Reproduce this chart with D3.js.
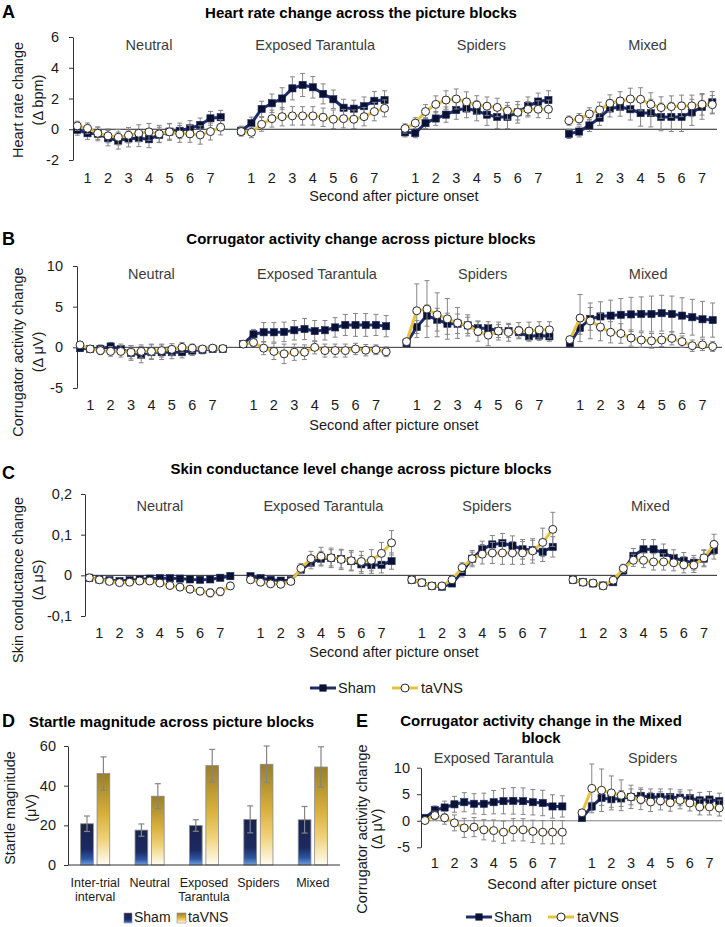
<!DOCTYPE html>
<html>
<head>
<meta charset="utf-8">
<script src="https://cdn.jsdelivr.net/npm/d3@7"></script>
<style>
  body { margin: 0; background: #fff; }
</style>
</head>
<body>
<svg id="fig" width="725" height="927"></svg>
<script>
// ---------- data ----------
const blocks = ["Neutral", "Exposed Tarantula", "Spiders", "Mixed"];
const blocksE = ["Exposed Tarantula", "Spiders"];
const secondLabels = ["1", "2", "3", "4", "5", "6", "7"];
const seriesNames = ["Sham", "taVNS"];

// A: heart rate change (Δ bpm), 15 half-second samples per block
const hrSham = [
  [-0.04, -0.26, -0.3, -0.58, -0.74, -0.6, -0.58, -0.65, -0.37, -0.15, -0.1, 0.06, 0.28, 0.71, 0.78],
  [-0.1, 0.39, 1.32, 1.69, 2.0, 2.66, 2.88, 2.73, 2.3, 1.95, 1.4, 1.34, 1.5, 1.85, 1.9],
  [-0.2, -0.25, 0.4, 0.7, 0.95, 1.25, 1.35, 1.2, 0.95, 0.8, 0.8, 1.1, 1.5, 1.8, 1.9],
  [-0.3, -0.15, 0.25, 0.75, 1.35, 1.45, 1.3, 1.05, 1.05, 0.8, 0.8, 0.8, 1.1, 1.45, 1.75]
];
const hrShamSE = [
  [0.35, 0.4, 0.45, 0.5, 0.55, 0.55, 0.55, 0.55, 0.5, 0.5, 0.5, 0.5, 0.45, 0.45, 0.45],
  [0.3, 0.4, 0.5, 0.6, 0.7, 0.75, 0.75, 0.7, 0.65, 0.6, 0.55, 0.55, 0.6, 0.6, 0.6],
  [0.3, 0.3, 0.35, 0.45, 0.5, 0.6, 0.6, 0.65, 0.7, 0.75, 0.75, 0.7, 0.6, 0.55, 0.6],
  [0.3, 0.35, 0.4, 0.5, 0.55, 0.6, 0.7, 0.85, 0.9, 0.9, 0.95, 0.95, 0.85, 0.8, 0.7]
];
const hrTav = [
  [0.22, 0.06, -0.26, -0.43, -0.52, -0.39, -0.26, -0.17, -0.3, -0.17, -0.3, -0.3, -0.37, -0.15, 0.13],
  [-0.15, -0.2, 0.32, 0.69, 0.82, 0.87, 0.87, 0.87, 0.78, 0.65, 0.69, 0.65, 0.82, 1.15, 1.36],
  [0.05, 0.4, 1.15, 1.62, 1.9, 1.97, 1.78, 1.58, 1.5, 1.42, 1.2, 1.1, 1.3, 1.3, 1.3],
  [0.56, 0.67, 1.0, 1.26, 1.69, 1.84, 1.97, 1.95, 1.62, 1.41, 1.47, 1.52, 1.52, 1.62, 1.6]
];
const hrTavSE = [
  [0.3, 0.35, 0.4, 0.45, 0.5, 0.5, 0.55, 0.55, 0.55, 0.55, 0.55, 0.55, 0.6, 0.55, 0.5],
  [0.3, 0.35, 0.45, 0.55, 0.6, 0.6, 0.6, 0.6, 0.6, 0.6, 0.6, 0.6, 0.6, 0.6, 0.55],
  [0.3, 0.35, 0.45, 0.55, 0.6, 0.65, 0.65, 0.6, 0.6, 0.6, 0.55, 0.5, 0.5, 0.55, 0.6],
  [0.3, 0.35, 0.4, 0.5, 0.55, 0.6, 0.7, 0.75, 0.75, 0.7, 0.7, 0.7, 0.7, 0.7, 0.6]
];
const hrTicks = [-2, 0, 2, 4, 6];
const hrTickLabels = ["-2", "0", "2", "4", "6"];

// B: corrugator activity change (Δ µV)
const corSham = [
  [-0.1, -0.2, -0.2, 0.1, -0.2, -0.7, -0.9, -0.6, -0.6, -0.6, -0.6, -0.4, -0.3, -0.2, -0.2],
  [0.4, 1.6, 1.85, 1.85, 1.9, 2.1, 2.25, 2.0, 2.1, 2.45, 2.75, 2.75, 2.75, 2.75, 2.6],
  [0.5, 2.5, 3.9, 3.4, 2.9, 2.9, 2.7, 2.35, 2.35, 2.0, 2.0, 1.85, 1.35, 1.45, 1.35],
  [0.5, 2.4, 3.5, 3.8, 3.9, 4.0, 4.05, 4.1, 4.1, 4.2, 4.1, 3.9, 3.7, 3.45, 3.35]
];
const corShamSE = [
  [0.4, 0.4, 0.5, 0.5, 0.6, 0.9, 1.0, 0.9, 0.9, 0.8, 0.7, 0.6, 0.5, 0.4, 0.4],
  [0.3, 0.6, 1.2, 1.2, 1.2, 1.2, 1.3, 1.3, 1.2, 1.2, 1.3, 1.4, 1.4, 1.3, 1.3],
  [0.3, 0.8, 1.3, 1.4, 1.3, 1.2, 1.0, 0.9, 0.8, 0.8, 0.8, 0.7, 0.6, 0.6, 0.6],
  [0.3, 0.8, 1.4, 1.8, 1.9, 2.0, 2.1, 2.1, 2.2, 2.2, 2.2, 2.2, 2.2, 2.2, 2.1]
];
const corTav = [
  [0.3, -0.2, -0.4, -0.5, -0.5, -0.6, -0.5, -0.5, -0.4, -0.25, 0.0, -0.1, -0.2, -0.1, -0.15],
  [0.4, 0.6, -0.1, -0.5, -0.8, -0.6, -0.6, 0.0, -0.4, -0.4, -0.4, -0.2, -0.35, -0.3, -0.55],
  [0.7, 4.5, 4.7, 4.0, 3.5, 3.0, 2.7, 1.95, 1.5, 2.0, 1.85, 2.05, 2.0, 2.15, 2.15],
  [0.95, 3.6, 3.25, 2.5, 1.85, 1.7, 1.15, 0.9, 0.8, 0.9, 1.1, 0.7, 0.2, 0.3, 0.1]
];
const corTavSE = [
  [0.3, 0.4, 0.5, 0.6, 0.7, 0.8, 0.8, 0.9, 0.8, 0.7, 0.6, 0.5, 0.4, 0.4, 0.4],
  [0.3, 0.5, 0.8, 1.0, 1.2, 1.0, 0.9, 0.8, 0.8, 0.8, 0.8, 0.7, 0.7, 0.6, 0.6],
  [0.3, 3.3, 3.5, 2.7, 2.5, 1.9, 1.3, 1.2, 1.3, 1.1, 1.1, 1.0, 1.1, 1.0, 1.0],
  [0.3, 2.9, 2.2, 1.7, 1.3, 1.2, 1.0, 0.9, 0.9, 0.8, 0.8, 0.7, 0.7, 0.7, 0.6]
];
const corTicks = [-5, 0, 5, 10];
const corTickLabels = ["-5", "0", "5", "10"];

// C: skin conductance change (Δ µS)
const scSham = [
  [-0.006, -0.01, -0.012, -0.014, -0.012, -0.01, -0.008, -0.007, -0.007, -0.008, -0.01, -0.011, -0.01, -0.006, -0.002],
  [-0.002, -0.007, -0.011, -0.013, -0.012, 0.014, 0.031, 0.041, 0.043, 0.04, 0.035, 0.027, 0.025, 0.026, 0.035],
  [-0.011, -0.018, -0.026, -0.028, -0.02, 0.008, 0.041, 0.064, 0.076, 0.079, 0.073, 0.064, 0.062, 0.058, 0.07],
  [-0.011, -0.017, -0.02, -0.025, -0.017, 0.012, 0.048, 0.064, 0.064, 0.055, 0.043, 0.036, 0.031, 0.041, 0.062]
];
const scShamSE = [
  [0.002, 0.003, 0.003, 0.003, 0.004, 0.004, 0.004, 0.005, 0.005, 0.005, 0.006, 0.006, 0.006, 0.007, 0.008],
  [0.003, 0.004, 0.005, 0.006, 0.006, 0.01, 0.015, 0.018, 0.02, 0.022, 0.022, 0.022, 0.02, 0.02, 0.02],
  [0.003, 0.004, 0.005, 0.005, 0.006, 0.012, 0.016, 0.02, 0.022, 0.024, 0.024, 0.024, 0.024, 0.024, 0.025],
  [0.003, 0.004, 0.005, 0.005, 0.006, 0.01, 0.018, 0.024, 0.024, 0.022, 0.02, 0.02, 0.018, 0.02, 0.022]
];
const scTav = [
  [-0.006, -0.011, -0.015, -0.018, -0.017, -0.014, -0.014, -0.019, -0.025, -0.029, -0.034, -0.039, -0.043, -0.04, -0.026],
  [-0.011, -0.017, -0.021, -0.022, -0.015, 0.017, 0.041, 0.047, 0.043, 0.039, 0.036, 0.034, 0.037, 0.054, 0.08],
  [-0.011, -0.018, -0.026, -0.026, -0.011, 0.019, 0.041, 0.052, 0.055, 0.055, 0.055, 0.055, 0.06, 0.081, 0.113],
  [-0.011, -0.017, -0.019, -0.026, -0.012, 0.017, 0.037, 0.037, 0.033, 0.033, 0.031, 0.026, 0.025, 0.043, 0.076]
];
const scTavSE = [
  [0.002, 0.003, 0.003, 0.004, 0.004, 0.005, 0.005, 0.006, 0.007, 0.008, 0.009, 0.009, 0.01, 0.01, 0.009],
  [0.003, 0.004, 0.005, 0.006, 0.007, 0.012, 0.018, 0.022, 0.024, 0.025, 0.025, 0.025, 0.026, 0.027, 0.03],
  [0.003, 0.004, 0.005, 0.005, 0.006, 0.012, 0.02, 0.024, 0.026, 0.028, 0.028, 0.028, 0.03, 0.035, 0.042],
  [0.003, 0.004, 0.005, 0.005, 0.006, 0.01, 0.015, 0.018, 0.02, 0.02, 0.02, 0.02, 0.018, 0.02, 0.025]
];
const scTicks = [-0.1, 0, 0.1, 0.2];
const scTickLabels = ["-0,1", "0", "0,1", "0,2"];

// D: startle magnitude (µV)
const startleCats = [["Inter-trial", "interval"], ["Neutral"], ["Exposed", "Tarantula"], ["Spiders"], ["Mixed"]];
const startleSham = [20.8, 17.6, 19.9, 23.0, 22.8];
const startleShamSE = [3.9, 3.1, 2.9, 6.8, 6.7];
const startleTav = [46.1, 34.7, 50.1, 50.8, 49.4];
const startleTavSE = [8.4, 6.3, 8.2, 9.2, 10.2];
const startleTicks = [0, 20, 40, 60];

// E: corrugator in the Mixed block, split by picture type
const mixSham = [
  [0.55, 2.0, 2.5, 3.1, 3.5, 3.2, 3.2, 3.5, 3.7, 3.75, 3.7, 3.5, 3.35, 2.7, 2.7],
  [0.5, 2.7, 4.3, 4.05, 4.2, 4.5, 4.7, 4.5, 4.5, 4.5, 4.35, 4.3, 3.85, 4.0, 3.7]
];
const mixShamSE = [
  [0.4, 0.8, 1.2, 1.5, 1.8, 1.9, 2.0, 2.2, 2.4, 2.5, 2.5, 2.4, 2.4, 2.2, 2.0],
  [0.4, 0.8, 1.4, 1.5, 1.5, 1.5, 1.5, 1.5, 1.5, 1.5, 1.5, 1.5, 1.5, 1.5, 1.5]
];
const mixTav = [
  [0.05, 1.0, 0.55, -0.4, -1.35, -1.2, -1.7, -1.85, -2.15, -1.7, -1.7, -2.0, -2.15, -2.15, -2.15],
  [1.5, 6.1, 5.75, 5.25, 4.8, 4.5, 4.0, 3.55, 3.75, 3.4, 3.85, 3.35, 2.6, 2.6, 2.4]
];
const mixTavSE = [
  [0.4, 0.8, 1.2, 1.5, 1.8, 1.8, 1.9, 2.0, 2.1, 2.1, 2.1, 2.1, 2.2, 2.2, 2.2],
  [0.5, 4.6, 4.0, 3.2, 2.9, 2.2, 1.9, 1.8, 1.7, 1.6, 1.6, 1.5, 1.5, 1.5, 1.5]
];

// ---------- style ----------
const FONT = "'Liberation Sans', Arial, Helvetica, sans-serif";
const TXT = "#1a1a1a";
const SHAM_LINE = "#1f2d6c";
const SHAM_MARK = "#0b1131";
const TAV_LINE = "#e6c23e";
const ERR = "#858585";
const SLOT = 16; // 15 samples + one empty slot between blocks

const svg = d3.select("#fig");
svg.style("font-family", FONT);

function txt(g, x, y, s, opt = {}) {
  return g.append("text")
    .attr("x", x).attr("y", y)
    .attr("text-anchor", opt.anchor || "middle")
    .attr("font-size", opt.size || 14.5)
    .attr("font-weight", opt.bold ? "bold" : "normal")
    .attr("fill", opt.fill || TXT)
    .text(s);
}

function rotLabel(g, lines, xs, cy, size) {
  lines.forEach((t, i) => {
    g.append("text")
      .attr("transform", `translate(${xs[i]},${cy}) rotate(-90)`)
      .attr("text-anchor", "middle")
      .attr("dy", "0.35em")
      .attr("font-size", size || 14.5)
      .attr("fill", TXT)
      .text(t);
  });
}

function drawSeries(g, x, y, means, ses, isSham) {
  const pts = means.flatMap((blk, bi) => blk.map((v, i) => ({ k: bi * SLOT + i, v, se: ses[bi][i] })));
  const eg = g.append("g").attr("stroke", ERR).attr("stroke-width", 1);
  eg.selectAll("line.v").data(pts).join("line").attr("class", "v")
    .attr("x1", d => x(d.k)).attr("x2", d => x(d.k))
    .attr("y1", d => y(d.v - d.se)).attr("y2", d => y(d.v + d.se));
  eg.selectAll("line.t").data(pts).join("line").attr("class", "t")
    .attr("x1", d => x(d.k) - 2.5).attr("x2", d => x(d.k) + 2.5)
    .attr("y1", d => y(d.v + d.se)).attr("y2", d => y(d.v + d.se));
  eg.selectAll("line.b").data(pts).join("line").attr("class", "b")
    .attr("x1", d => x(d.k) - 2.5).attr("x2", d => x(d.k) + 2.5)
    .attr("y1", d => y(d.v - d.se)).attr("y2", d => y(d.v - d.se));

  means.forEach((blk, bi) => {
    g.append("path").datum(blk)
      .attr("fill", "none")
      .attr("stroke", isSham ? SHAM_LINE : TAV_LINE)
      .attr("stroke-width", 3)
      .attr("stroke-linejoin", "round")
      .attr("d", d3.line().x((v, i) => x(bi * SLOT + i)).y(v => y(v)));
  });

  if (isSham) {
    g.selectAll("rect.m").data(pts).join("rect").attr("class", "m")
      .attr("x", d => x(d.k) - 3.6).attr("y", d => y(d.v) - 3.6)
      .attr("width", 7.2).attr("height", 7.2)
      .attr("fill", SHAM_MARK).attr("stroke", SHAM_LINE).attr("stroke-width", 0.6);
  } else {
    g.selectAll("circle.m").data(pts).join("circle").attr("class", "m")
      .attr("cx", d => x(d.k)).attr("cy", d => y(d.v)).attr("r", 4)
      .attr("fill", "#fff").attr("stroke", "#2b2b2b").attr("stroke-width", 1);
  }
}

function linePanel(c) {
  const g = svg.append("g");
  const last = (c.blocks.length - 1) * SLOT + 14;
  const x = d3.scaleLinear().domain([0, last]).range([c.x0, c.x1]);
  const y = d3.scaleLinear().domain(c.domain).range([c.yBot, c.yTop]);

  txt(g, c.letterX, c.letterY, c.letter, { anchor: "start", size: 18, bold: true, fill: "#000" });
  c.title.forEach((t, i) => txt(g, c.titleX, c.titleY + i * 17, t, { size: 15, bold: true, fill: "#000" }));

  const ax = g.append("g").attr("transform", `translate(${c.axisX},0)`)
    .call(d3.axisLeft(y).tickValues(c.ticks)
      .tickFormat((d, i) => c.tickLabels[i])
      .tickSize(4).tickSizeOuter(0).tickPadding(c.tickPad));
  ax.select(".domain").attr("stroke", "#333");
  ax.selectAll(".tick line").attr("stroke", "#333");
  ax.selectAll(".tick text").attr("font-size", 14.5).attr("font-family", FONT).attr("fill", TXT);

  g.append("line")
    .attr("x1", c.axisX).attr("x2", c.zeroEnd)
    .attr("y1", y(0)).attr("y2", y(0))
    .attr("stroke", c.zeroColor).attr("stroke-width", 1);

  rotLabel(g, c.yLab, c.yLabX, c.yLabY);

  c.blocks.forEach((b, bi) => {
    txt(g, x(bi * SLOT + 7) + bi * c.drift, c.blockY, b, { fill: "#3c3c3c" });
    secondLabels.forEach((s, k) => txt(g, x(bi * SLOT + 1 + 2 * k), c.xTickY, s));
  });
  txt(g, c.xTitleX, c.xTitleY, "Second after picture onset");

  drawSeries(g, x, y, c.sham, c.shamSE, true);
  drawSeries(g, x, y, c.tav, c.tavSE, false);
}

function lineLegend(x0, yBase) {
  const g = svg.append("g");
  // Sham
  g.append("line").attr("x1", x0).attr("x2", x0 + 26).attr("y1", yBase - 5).attr("y2", yBase - 5)
    .attr("stroke", SHAM_LINE).attr("stroke-width", 3);
  g.append("rect").attr("x", x0 + 13 - 3.6).attr("y", yBase - 5 - 3.6).attr("width", 7.2).attr("height", 7.2)
    .attr("fill", SHAM_MARK);
  txt(g, x0 + 28, yBase, seriesNames[0], { anchor: "start" });
  // taVNS
  const x1 = x0 + 82;
  g.append("line").attr("x1", x1).attr("x2", x1 + 26).attr("y1", yBase - 5).attr("y2", yBase - 5)
    .attr("stroke", TAV_LINE).attr("stroke-width", 3);
  g.append("circle").attr("cx", x1 + 13).attr("cy", yBase - 5).attr("r", 4)
    .attr("fill", "#fff").attr("stroke", "#2b2b2b");
  txt(g, x1 + 29, yBase, seriesNames[1], { anchor: "start" });
}

// ---------- A ----------
linePanel({
  letter: "A", letterX: 2, letterY: 18, title: ["Heart rate change across the picture blocks"], titleX: 361, titleY: 18,
  axisX: 73, x0: 77.3, x1: 712.3, yTop: 37, yBot: 160, domain: [-2, 6], ticks: hrTicks, tickLabels: hrTickLabels, tickPad: 10,
  zeroEnd: 717, zeroColor: "#222", yLab: ["Heart rate change", "(Δ bpm)"], yLabX: [18, 38], yLabY: 100,
  blocks: blocks, blockY: 50, drift: 2.3, xTickY: 183, xTitleX: 394, xTitleY: 201,
  sham: hrSham, shamSE: hrShamSE, tav: hrTav, tavSE: hrTavSE
});

// ---------- B ----------
linePanel({
  letter: "B", letterX: 2, letterY: 245, title: ["Corrugator activity change across picture blocks"], titleX: 361, titleY: 244,
  axisX: 77, x0: 80, x1: 712.7, yTop: 266, yBot: 388, domain: [-5, 10], ticks: corTicks, tickLabels: corTickLabels, tickPad: 10,
  zeroEnd: 722, zeroColor: "#333", yLab: ["Corrugator activity change", "(Δ μV)"], yLabX: [18, 38], yLabY: 352,
  blocks: blocks, blockY: 279, drift: 2.3, xTickY: 410, xTitleX: 394, xTitleY: 430,
  sham: corSham, shamSE: corShamSE, tav: corTav, tavSE: corTavSE
});

// ---------- C ----------
linePanel({
  letter: "C", letterX: 2, letterY: 479, title: ["Skin conductance level change across picture blocks"], titleX: 361, titleY: 474,
  axisX: 85, x0: 89.3, x1: 714, yTop: 494, yBot: 616, domain: [-0.1, 0.2], ticks: scTicks, tickLabels: scTickLabels, tickPad: 9,
  zeroEnd: 717, zeroColor: "#222", yLab: ["Skin conductance change", "(Δ μS)"], yLabX: [18, 38], yLabY: 580,
  blocks: blocks, blockY: 511, drift: 2.3, xTickY: 638, xTitleX: 394, xTitleY: 657,
  sham: scSham, shamSE: scShamSE, tav: scTav, tavSE: scTavSE
});

lineLegend(310, 693);

// ---------- D ----------
(function () {
  const g = svg.append("g");
  const defs = svg.append("defs");
  const gradSham = defs.append("linearGradient").attr("id", "gSham").attr("x1", 0).attr("y1", 0).attr("x2", 0).attr("y2", 1);
  [[0, "#1a2350"], [0.62, "#1c2a60"], [0.84, "#2c55a0"], [1, "#6f9fe0"]]
    .forEach(s => gradSham.append("stop").attr("offset", s[0]).attr("stop-color", s[1]));
  const gradTav = defs.append("linearGradient").attr("id", "gTav").attr("x1", 0).attr("y1", 0).attr("x2", 0).attr("y2", 1);
  [[0, "#9a7f2a"], [0.45, "#d8b03c"], [0.72, "#f0d27a"], [1, "#fffdf3"]]
    .forEach(s => gradTav.append("stop").attr("offset", s[0]).attr("stop-color", s[1]));

  txt(g, 2, 727, "D", { anchor: "start", size: 18, bold: true, fill: "#000" });
  txt(g, 29, 727, "Startle magnitude across picture blocks", { anchor: "start", size: 15, bold: true, fill: "#000" });

  const y = d3.scaleLinear().domain([0, 60]).range([865, 746]);
  const x = d3.scaleBand().domain(d3.range(startleCats.length)).range([68, 340]);
  const xs = d3.scaleBand().domain(seriesNames).range([0, x.bandwidth()]).paddingInner(0.226).paddingOuter(0.77);

  const ax = g.append("g").attr("transform", "translate(68,0)")
    .call(d3.axisLeft(y).tickValues(startleTicks).tickSize(4).tickSizeOuter(0).tickPadding(8));
  ax.select(".domain").attr("stroke", "#333");
  ax.selectAll(".tick line").attr("stroke", "#333");
  ax.selectAll(".tick text").attr("font-size", 14.5).attr("font-family", FONT).attr("fill", TXT);

  rotLabel(g, ["Startle magnitude", "(μV)"], [10, 31], 808);

  const sets = [
    { name: seriesNames[0], vals: startleSham, se: startleShamSE, fill: "url(#gSham)" },
    { name: seriesNames[1], vals: startleTav, se: startleTavSE, fill: "url(#gTav)" }
  ];
  sets.forEach(s => {
    const data = s.vals.map((v, i) => ({ i, v, se: s.se[i] }));
    g.selectAll(null).data(data).join("rect")
      .attr("x", d => x(d.i) + xs(s.name)).attr("width", xs.bandwidth())
      .attr("y", d => y(d.v)).attr("height", d => y(0) - y(d.v))
      .attr("fill", s.fill).attr("stroke", "#8a8a8a").attr("stroke-width", 0.8);
    const cx = d => x(d.i) + xs(s.name) + xs.bandwidth() / 2;
    const eg = g.append("g").attr("stroke", ERR).attr("stroke-width", 1.2);
    eg.selectAll(null).data(data).join("line")
      .attr("x1", cx).attr("x2", cx).attr("y1", d => y(d.v - d.se)).attr("y2", d => y(d.v + d.se));
    eg.selectAll(null).data(data).join("line")
      .attr("x1", d => cx(d) - 3).attr("x2", d => cx(d) + 3).attr("y1", d => y(d.v + d.se)).attr("y2", d => y(d.v + d.se));
    eg.selectAll(null).data(data).join("line")
      .attr("x1", d => cx(d) - 3).attr("x2", d => cx(d) + 3).attr("y1", d => y(d.v - d.se)).attr("y2", d => y(d.v - d.se));
  });

  g.append("line").attr("x1", 68).attr("x2", 340).attr("y1", y(0)).attr("y2", y(0)).attr("stroke", "#333");

  startleCats.forEach((lines, i) => {
    lines.forEach((t, j) => txt(g, x(i) + x.bandwidth() / 2, 887 + j * 14, t, { size: 12.5 }));
  });

  // legend
  g.append("rect").attr("x", 124).attr("y", 913).attr("width", 8).attr("height", 10).attr("fill", "url(#gSham)").attr("stroke", "#8a8a8a").attr("stroke-width", 0.6);
  txt(g, 134, 922, seriesNames[0], { anchor: "start", size: 14 });
  g.append("rect").attr("x", 177).attr("y", 913).attr("width", 9).attr("height", 10).attr("fill", "url(#gTav)").attr("stroke", "#8a8a8a").attr("stroke-width", 0.6);
  txt(g, 188, 922, seriesNames[1], { anchor: "start", size: 14 });
})();

// ---------- E ----------
linePanel({
  letter: "E", letterX: 356, letterY: 727,
  title: ["Corrugator activity change in the Mixed", "block"], titleX: 541, titleY: 726,
  axisX: 421, x0: 425, x1: 719.3, yTop: 767.7, yBot: 847.3, domain: [-5, 10], ticks: corTicks, tickLabels: corTickLabels, tickPad: 7,
  zeroEnd: 722, zeroColor: "#808080", yLab: ["Corrugator activity change", "(Δ μV)"], yLabX: [362, 377], yLabY: 829,
  blocks: blocksE, blockY: 763, drift: 2, xTickY: 868, xTitleX: 572, xTitleY: 889,
  sham: mixSham, shamSE: mixShamSE, tav: mixTav, tavSE: mixTavSE
});

lineLegend(466, 922);
</script>
</body>
</html>
